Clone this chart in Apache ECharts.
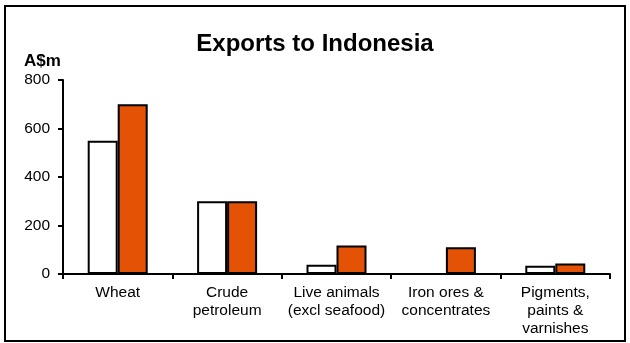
<!DOCTYPE html>
<html><head><meta charset="utf-8">
<script src="https://cdn.jsdelivr.net/npm/echarts@6/dist/echarts.min.js"></script>
<style>html,body{margin:0;padding:0;background:#fff}#c{width:630px;height:343px}</style>
</head><body><div id="c"></div>
<script>
const categories = ['Wheat', 'Crude\npetroleum', 'Live animals\n(excl seafood)', 'Iron ores &\nconcentrates', 'Pigments,\npaints &\nvarnishes'];
const seriesA = [550, 300, 38, 0, 34];
const seriesB = [700, 300, 118, 110, 43];
const yTicks = [0, 200, 400, 600, 800];

const chart = echarts.init(document.getElementById('c'), null, {renderer: 'canvas'});
const font = 'Liberation Sans, Arial, sans-serif';
chart.setOption({
  animation: false,
  textStyle: {fontFamily: font},
  title: {text: 'Exports to Indonesia', left: 'center', top: 27,
    textStyle: {fontFamily: font, fontSize: 24, fontWeight: 'bold', color: '#000'}},
  graphic: [
    {type: 'rect', shape: {x: 5, y: 6, width: 620, height: 335}, style: {fill: 'none', stroke: '#000', lineWidth: 2}, silent: true},
    {type: 'text', left: 24, top: 53, style: {text: 'A$m', font: 'bold 17px ' + font, fill: '#000'}}
  ],
  grid: {left: 63, right: 20, top: 80, bottom: 69, containLabel: false},
  xAxis: {type: 'category', data: categories,
    axisLine: {lineStyle: {color: '#000', width: 2}},
    axisTick: {show: true, length: 5, lineStyle: {color: '#000', width: 2}},
    axisLabel: {color: '#000', fontSize: 15.5, lineHeight: 18, margin: 10, interval: 0, fontFamily: font}
  },
  yAxis: {type: 'value', min: 0, max: 800, interval: 200,
    axisLine: {show: true, lineStyle: {color: '#000', width: 2}},
    axisTick: {show: true, length: 5, lineStyle: {color: '#000', width: 2}},
    splitLine: {show: false},
    axisLabel: {color: '#000', fontSize: 15.5, margin: 13, fontFamily: font,
      formatter: v => yTicks.includes(v) ? String(v) : ''}
  },
  series: [
    {type: 'bar', data: seriesA, barWidth: 30, barGap: '0%',
      itemStyle: {color: '#fff', borderColor: '#000', borderWidth: 2}},
    {type: 'bar', data: seriesB, barWidth: 30, barGap: '0%',
      itemStyle: {color: '#E35205', borderColor: '#000', borderWidth: 2}}
  ]
});
</script></body></html>
